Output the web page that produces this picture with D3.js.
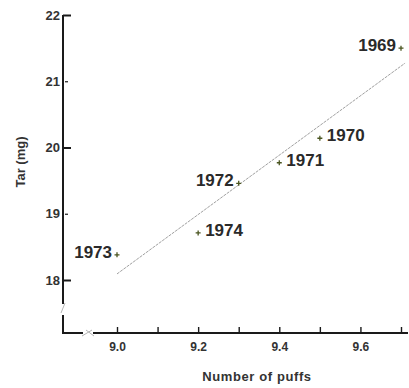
<!DOCTYPE html>
<html>
<head>
<meta charset="utf-8">
<script src="https://cdn.jsdelivr.net/npm/d3@7"></script>
<style>
  html, body { margin: 0; padding: 0; background: #fff; }
  svg { display: block; font-family: "Liberation Sans", Arial, Helvetica, sans-serif; }
</style>
</head>
<body>
<svg id="chart" width="409" height="388"></svg>
<script>
// Tar yield versus number of puffs, by year
const years = ["1969", "1970", "1971", "1972", "1973", "1974"];
const puffs = [9.7, 9.5, 9.4, 9.3, 9.0, 9.2];
const tar   = [21.5, 20.14, 19.77, 19.46, 18.38, 18.71];

const xTicks = [9.0, 9.1, 9.2, 9.3, 9.4, 9.5, 9.6, 9.7];
const xTickLabels = ["9.0", "9.2", "9.4", "9.6"];
const yTicks = [18, 19, 20, 21, 22];
const yTickLabels = ["18", "19", "20", "21", "22"];

const svg = d3.select("#chart");

const x = d3.scaleLinear().domain([9.0, 9.7]).range([117, 401]);
const y = d3.scaleLinear().domain([18, 22]).range([280, 15]);

const axisX0 = 63;   // y-axis position
const axisY0 = 333;  // x-axis position

const ink = "#1a1a1a";

// ---- axes lines with breaks ----
const axes = svg.append("g").attr("stroke", ink).attr("stroke-width", 2).attr("fill", "none");
axes.append("line").attr("x1", axisX0).attr("x2", axisX0).attr("y1", y(22)).attr("y2", 304);
axes.append("path").attr("d", `M${axisX0},315 V${axisY0} H83`);
axes.append("line").attr("x1", 93).attr("x2", 408).attr("y1", axisY0).attr("y2", axisY0);

// break marks
const brk = svg.append("g").attr("stroke", "#b5b5b5").attr("stroke-width", 1);
brk.append("line").attr("x1", axisX0 - 2).attr("y1", 313).attr("x2", axisX0 + 2).attr("y2", 303);
brk.append("line").attr("x1", 82).attr("y1", 336).attr("x2", 92).attr("y2", 330);
brk.append("line").attr("x1", 86).attr("y1", 330).attr("x2", 94).attr("y2", 336);

// ---- x axis ticks ----
const xAxis = d3.axisBottom(x)
  .tickValues(xTicks)
  .tickSize(-6)
  .tickPadding(9)
  .tickFormat(d => {
    const s = d3.format(".1f")(d);
    return xTickLabels.includes(s) ? s : "";
  });
const gx = svg.append("g").attr("transform", `translate(0,${axisY0})`).call(xAxis);
gx.select(".domain").remove();
gx.selectAll(".tick line").attr("stroke", ink).attr("stroke-width", 1.4);
gx.selectAll(".tick text")
  .attr("fill", "#333").attr("font-size", 12).attr("font-weight", "bold");

// ---- y axis ticks ----
const yAxis = d3.axisLeft(y)
  .tickValues(yTicks)
  .tickSize(-8)
  .tickPadding(3)
  .tickFormat((d, i) => yTickLabels[i]);
const gy = svg.append("g").attr("transform", `translate(${axisX0},0)`).call(yAxis);
gy.select(".domain").remove();
gy.selectAll(".tick line")
  .attr("stroke", ink)
  .attr("stroke-width", d => d % 2 === 0 ? 2 : 1.2)
  .attr("x2", d => d % 2 === 0 ? 8 : 5)
  .attr("x1", d => d % 2 === 0 ? 0 : 2);
gy.selectAll(".tick text")
  .attr("fill", "#333").attr("font-size", 13).attr("font-weight", "bold");

// ---- axis titles ----
svg.append("text")
  .attr("x", 257).attr("y", 381)
  .attr("text-anchor", "middle")
  .attr("font-size", 13).attr("font-weight", "bold")
  .attr("letter-spacing", 0.6)
  .attr("fill", "#333")
  .text("Number of puffs");

svg.append("text")
  .attr("transform", "translate(25,162) rotate(-90)")
  .attr("text-anchor", "middle")
  .attr("font-size", 13).attr("font-weight", "bold")
  .attr("fill", "#333")
  .text("Tar (mg)");

// ---- least-squares trend line ----
const mx = d3.mean(puffs), my = d3.mean(tar);
const sxy = d3.sum(puffs, (p, i) => (p - mx) * (tar[i] - my));
const sxx = d3.sum(puffs, p => (p - mx) * (p - mx));
const slope = sxy / sxx, intercept = my - slope * mx;
const fitRange = [9.0, 9.71];
svg.append("line")
  .attr("x1", x(fitRange[0])).attr("y1", y(intercept + slope * fitRange[0]))
  .attr("x2", x(fitRange[1])).attr("y2", y(intercept + slope * fitRange[1]))
  .attr("stroke", "#a0a0a0").attr("stroke-width", 1)
  .attr("stroke-dasharray", "3,1");

// ---- points and year labels ----
const leftLabeled = new Set(["1969", "1972", "1973"]);
const pts = svg.append("g");
years.forEach((yr, i) => {
  const px = x(puffs[i]), py = y(tar[i]);
  pts.append("path")
    .attr("d", `M${px - 2.5},${py} H${px + 2.5} M${px},${py - 2.5} V${py + 2.5}`)
    .attr("stroke", "#4a5520").attr("stroke-width", 1.3);
  const left = leftLabeled.has(yr);
  pts.append("text")
    .attr("x", left ? px - 5 : px + 7)
    .attr("y", py + 3)
    .attr("text-anchor", left ? "end" : "start")
    .attr("font-size", 17).attr("font-weight", "bold")
    .attr("fill", "#2a2a2a")
    .text(yr);
});
</script>
</body>
</html>
